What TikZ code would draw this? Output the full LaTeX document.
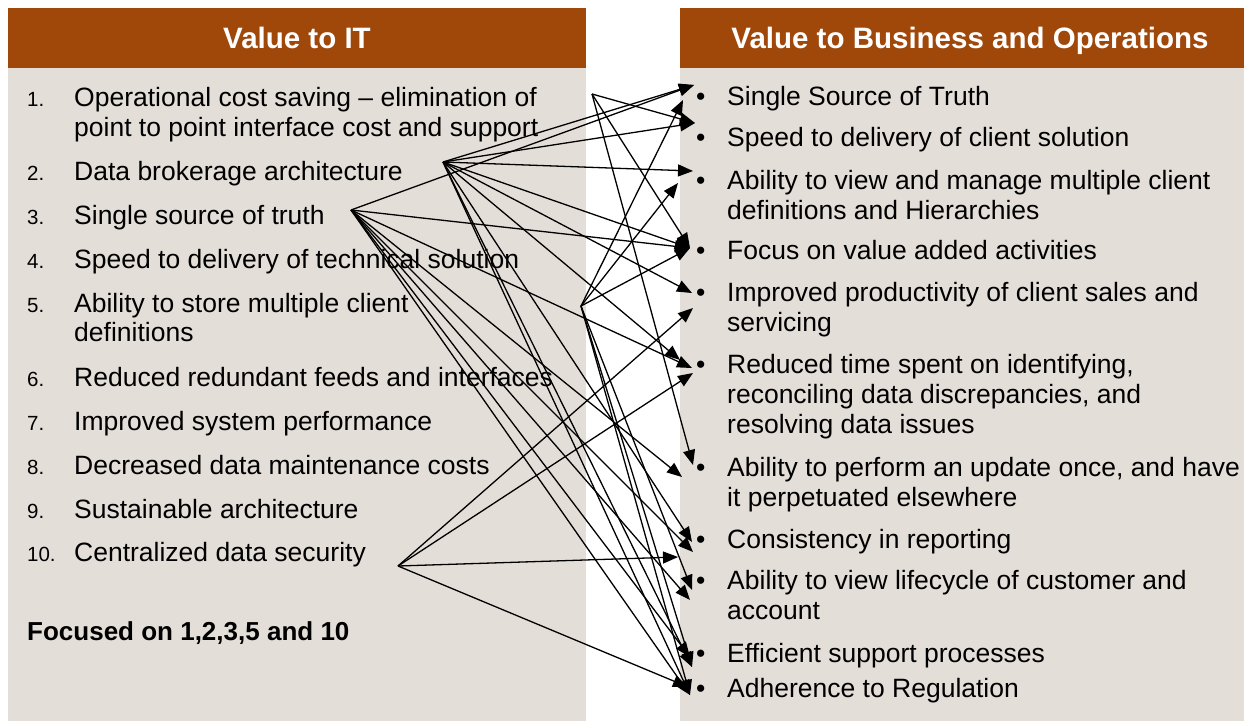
\documentclass[tikz,border=0pt]{standalone}
\usepackage{fontspec}
\setmainfont{Liberation Sans}
\usetikzlibrary{arrows.meta}
\definecolor{hdr}{HTML}{A0470A}
\definecolor{pane}{HTML}{E4DED8}
\begin{document}
\begin{tikzpicture}[x=1pt,y=-1pt,
  hdrtext/.style={text=white,anchor=base,inner sep=0pt,font=\fontsize{29.5}{34}\selectfont\bfseries},
  itemtext/.style={anchor=base west,inner sep=0pt,font=\fontsize{26.5}{30}\selectfont},
  numtext/.style={anchor=base west,inner sep=0pt,font=\fontsize{20.5}{24}\selectfont},
  focus/.style={anchor=base west,inner sep=0pt,font=\fontsize{26}{30}\selectfont\bfseries},
  link/.style={line width=1.3pt,-{Triangle[length=15pt,width=12pt]}}]
\useasboundingbox (0,0) rectangle (1244,721);

% panels
\fill[pane] (8,68) rectangle (586,721);
\fill[pane] (680,68) rectangle (1244,721);
\fill[hdr] (8,8) rectangle (586,68);
\fill[hdr] (680,8) rectangle (1244,68);
\node[hdrtext] (hl) at (297,48) {Value to IT};
\node[hdrtext] (hr) at (970,48) {Value to Business and Operations};

% left list
\node[numtext] (n1) at (27,106) {1.};
\node[itemtext] (l1a) at (74,106) {Operational cost saving – elimination of};
\node[itemtext] (l1b) at (74,136) {point to point interface cost and support};
\node[numtext] (n2) at (27,180) {2.};
\node[itemtext] (l2) at (74,180) {Data brokerage architecture};
\node[numtext] (n3) at (27,224) {3.};
\node[itemtext] (l3) at (74,224) {Single source of truth};
\node[numtext] (n4) at (27,268) {4.};
\node[itemtext] (l4) at (74,268) {Speed to delivery of technical solution};
\node[numtext] (n5) at (27,312) {5.};
\node[itemtext] (l5a) at (74,312) {Ability to store multiple client};
\node[itemtext] (l5b) at (74,341) {definitions};
\node[numtext] (n6) at (27,386) {6.};
\node[itemtext] (l6) at (74,386) {Reduced redundant feeds and interfaces};
\node[numtext] (n7) at (27,430) {7.};
\node[itemtext] (l7) at (74,430) {Improved system performance};
\node[numtext] (n8) at (27,474) {8.};
\node[itemtext] (l8) at (74,474) {Decreased data maintenance costs};
\node[numtext] (n9) at (27,518) {9.};
\node[itemtext] (l9) at (74,518) {Sustainable architecture};
\node[numtext] (n10) at (27,561) {10.};
\node[itemtext] (l10) at (74,561) {Centralized data security};
\node[focus] (fc) at (27,640) {Focused on 1,2,3,5 and 10};

% right list
\foreach \y/\nm in {105/b1,146/b2,189/b3,259/b4,301/b5,373/b6,476/b7,548/b8,589/b9,662/b10,697/b11}
  \node[itemtext] (\nm) at (696,\y) {•};
\node[itemtext] (r1) at (727,105) {Single Source of Truth};
\node[itemtext] (r2) at (727,146) {Speed to delivery of client solution};
\node[itemtext] (r3a) at (727,189) {Ability to view and manage multiple client};
\node[itemtext] (r3b) at (727,219) {definitions and Hierarchies};
\node[itemtext] (r4) at (727,259) {Focus on value added activities};
\node[itemtext] (r5a) at (727,301) {Improved productivity of client sales and};
\node[itemtext] (r5b) at (727,331) {servicing};
\node[itemtext] (r6a) at (727,373) {Reduced time spent on identifying,};
\node[itemtext] (r6b) at (727,403) {reconciling data discrepancies, and};
\node[itemtext] (r6c) at (727,433) {resolving data issues};
\node[itemtext] (r7a) at (727,476) {Ability to perform an update once, and have};
\node[itemtext] (r7b) at (727,506) {it perpetuated elsewhere};
\node[itemtext] (r8) at (727,548) {Consistency in reporting};
\node[itemtext] (r9a) at (727,589) {Ability to view lifecycle of customer and};
\node[itemtext] (r9b) at (727,619) {account};
\node[itemtext] (r10) at (727,662) {Efficient support processes};
\node[itemtext] (r11) at (727,697) {Adherence to Regulation};

% connector origins
\coordinate (s1) at (592,94);
\coordinate (s2) at (443,162);
\coordinate (s3) at (351,210);
\coordinate (s4) at (581,306);
\coordinate (s5) at (398,566);

% arrow tips
\coordinate (t1a) at (694,85);   \coordinate (t1b) at (683,100);
\coordinate (t2a) at (695,123);
\coordinate (t3a) at (693,171);  \coordinate (t3b) at (678,183);
\coordinate (t4a) at (690,248);
\coordinate (t5a) at (692,293);  \coordinate (t5b) at (693,308);
\coordinate (t6a) at (680,360);  \coordinate (t6b) at (692,368);  \coordinate (t6c) at (693,373);
\coordinate (t7a) at (693,465);  \coordinate (t7b) at (682,477);
\coordinate (t8a) at (692,542);  \coordinate (t8b) at (693,552);  \coordinate (t8c) at (678,557);
\coordinate (t9a) at (692,590);  \coordinate (t9b) at (690,600);
\coordinate (t10a) at (690,657); \coordinate (t10b) at (692,667);
\coordinate (t11a) at (688,687); \coordinate (t11b) at (690,695);

% connectors
\foreach \t in {t2a,t4a,t7a} \draw[link] (s1) -- (\t);
\foreach \t in {t1a,t2a,t3a,t4a,t5a,t6a,t8a,t10b,t11b} \draw[link] (s2) -- (\t);
\foreach \t in {t1a,t4a,t6b,t7b,t8b,t9b,t10a,t11b} \draw[link] (s3) -- (\t);
\foreach \t in {t1b,t3b,t4a,t9a,t10b,t11b} \draw[link] (s4) -- (\t);
\foreach \t in {t5b,t6c,t8c,t11a} \draw[link] (s5) -- (\t);
\end{tikzpicture}
\end{document}
